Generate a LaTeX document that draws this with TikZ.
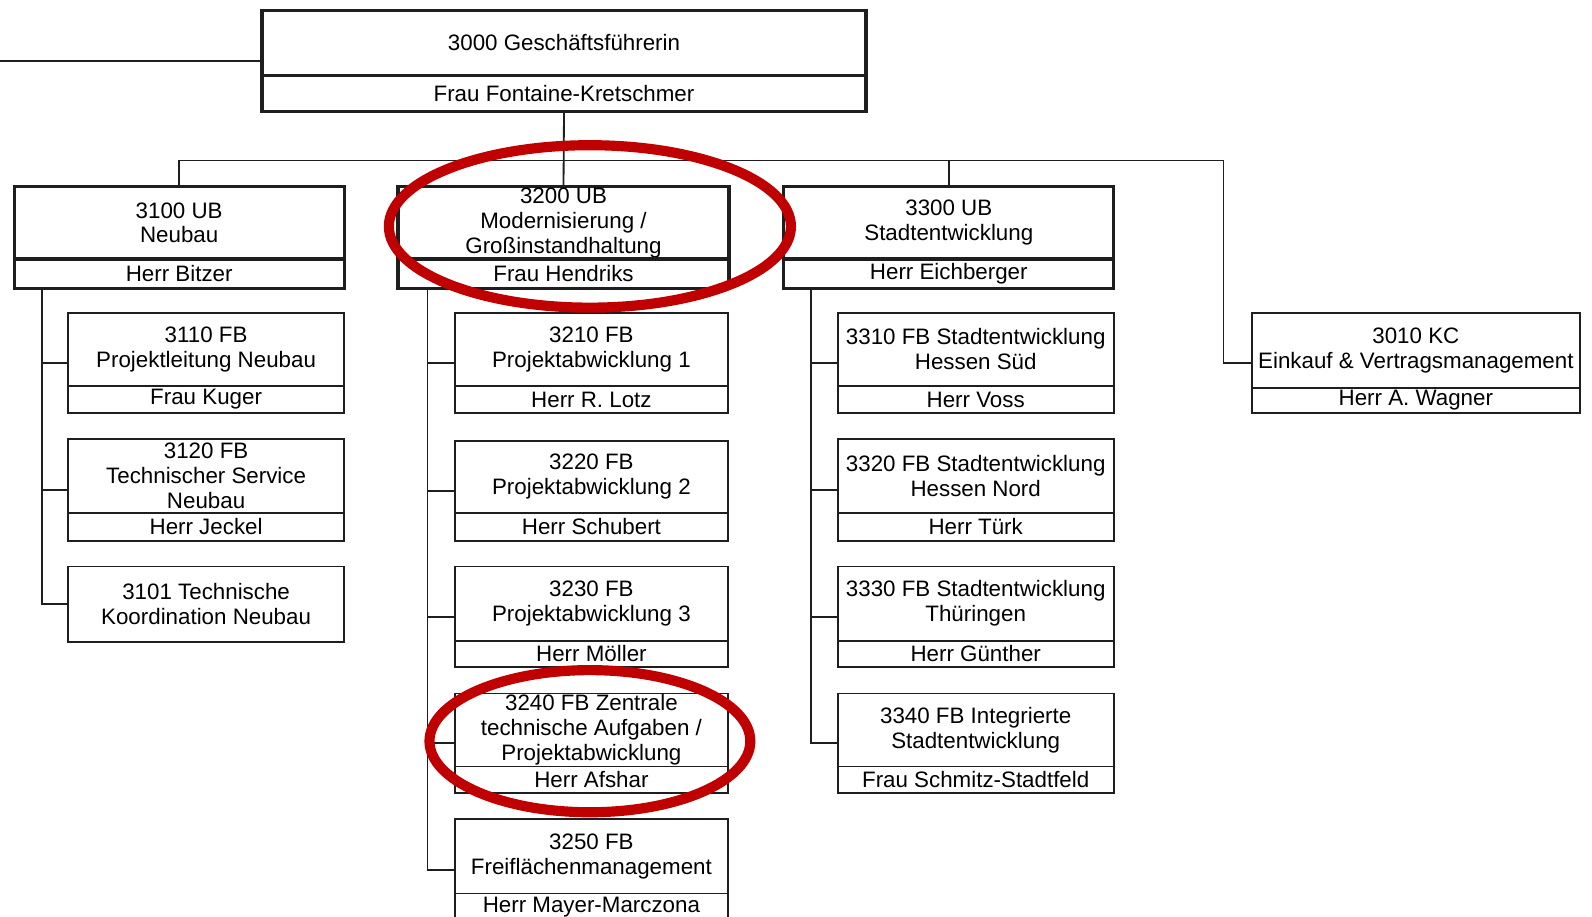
\documentclass[tikz,border=0pt]{standalone}
\usepackage{fontspec}
\setmainfont{Liberation Sans}
\usepackage{tikz}
\definecolor{ringrot}{RGB}{192,0,0}
\definecolor{strich}{RGB}{30,30,30}

\newcommand{\orgunit}[9]{%
	\node[#2, minimum width=#5pt, minimum height=#6pt] (#1) at (#3,#4) {#8};
	\node[#2, minimum width=#5pt, minimum height=#7pt] (#1p) at (#1.south west) {#9};
	\coordinate (#1-m) at (#3,{#4+(#6+#7)/2});
}

\begin{document}
\begin{tikzpicture}[x=1pt, y=-1pt, strich,
	every node/.style={font=\fontsize{22}{24.5}\selectfont, text=black},
	ub/.style={draw, line width=3.2pt, anchor=north west, inner sep=0pt, outer sep=0pt, align=center},
	fb/.style={draw, line width=1.8pt, anchor=north west, inner sep=0pt, outer sep=0pt, align=center},
	link/.style={line width=1.8pt},
	ring/.style={draw=ringrot, line width=10pt}]

	\useasboundingbox (0,0) rectangle (1568,903);

	\orgunit{u3000}{ub}{258}{10}{595}{64}{36}{3000 Geschäftsführerin}{Frau Fontaine-Kretschmer}

	\orgunit{u3100}{ub}{14}{184}{325}{71}{29}{3100 UB\\Neubau}{Herr Bitzer}
	\orgunit{u3200}{ub}{392}{184}{326}{71}{29}{3200 UB\\Modernisierung /\\Großinstandhaltung}{Frau Hendriks}
	\orgunit{u3300}{ub}{772}{184}{325}{71}{29}{3300 UB\\Stadtentwicklung}{Herr Eichberger}

	\orgunit{u3110}{fb}{67}{308}{272}{72}{27}{3110 FB\\Projektleitung Neubau}{Frau Kuger}
	\orgunit{u3120}{fb}{67}{432}{272}{73}{28}{3120 FB\\Technischer Service\\Neubau}{Herr Jeckel}
	\node[fb, minimum width=272pt, minimum height=74pt] (u3101) at (67,558) {3101 Technische\\Koordination Neubau};
	\coordinate (u3101-m) at (67,595);

	\orgunit{u3210}{fb}{448}{308}{269}{72}{27}{3210 FB\\Projektabwicklung 1}{Herr R. Lotz}
	\orgunit{u3220}{fb}{448}{434}{269}{71}{28}{3220 FB\\Projektabwicklung 2}{Herr Schubert}
	\orgunit{u3230}{fb}{448}{558}{269}{73}{26}{3230 FB\\Projektabwicklung 3}{Herr Möller}
	\orgunit{u3240}{fb}{448}{683}{269}{72}{26}{3240 FB Zentrale\\technische Aufgaben /\\Projektabwicklung}{Herr Afshar}
	\orgunit{u3250}{fb}{448}{807}{269}{73}{27}{3250 FB\\Freiflächenmanagement}{Herr Mayer-Marczona}

	\orgunit{u3310}{fb}{825}{308}{272}{72}{27}{3310 FB Stadtentwicklung\\Hessen Süd}{Herr Voss}
	\orgunit{u3320}{fb}{825}{432}{272}{73}{28}{3320 FB Stadtentwicklung\\Hessen Nord}{Herr Türk}
	\orgunit{u3330}{fb}{825}{558}{272}{73}{26}{3330 FB Stadtentwicklung\\Thüringen}{Herr Günther}
	\orgunit{u3340}{fb}{825}{683}{272}{72}{26}{3340 FB Integrierte\\Stadtentwicklung}{Frau Schmitz-Stadtfeld}

	\orgunit{u3010}{fb}{1233}{308}{323}{74}{25}{3010 KC\\Einkauf \& Vertragsmanagement}{Herr A. Wagner}

	\coordinate (rand) at (0,60);
	\coordinate (bus) at (555,158);

	\draw[link] (u3000-m) -- (rand);
	\draw[link] (u3000p.south) -- (u3200.north);
	\draw[link] (u3100.north) |- (bus) -| (u3300.north);
	\draw[link] (bus) -| ([xshift=-28pt]u3010-m) -- (u3010-m);

	\foreach \kid in {u3110,u3120,u3101}
		\draw[link] ([xshift=27pt]u3100p.south west) |- (\kid-m);
	\foreach \kid in {u3210,u3220,u3230,u3240,u3250}
		\draw[link] ([xshift=29pt]u3200p.south west) |- (\kid-m);
	\foreach \kid in {u3310,u3320,u3330,u3340}
		\draw[link] ([xshift=27pt]u3300p.south west) |- (\kid-m);

	\draw[ring] (581,223) ellipse [x radius=198, y radius=80];
	\draw[ring] (581,730) ellipse [x radius=158, y radius=70];

\end{tikzpicture}
\end{document}
